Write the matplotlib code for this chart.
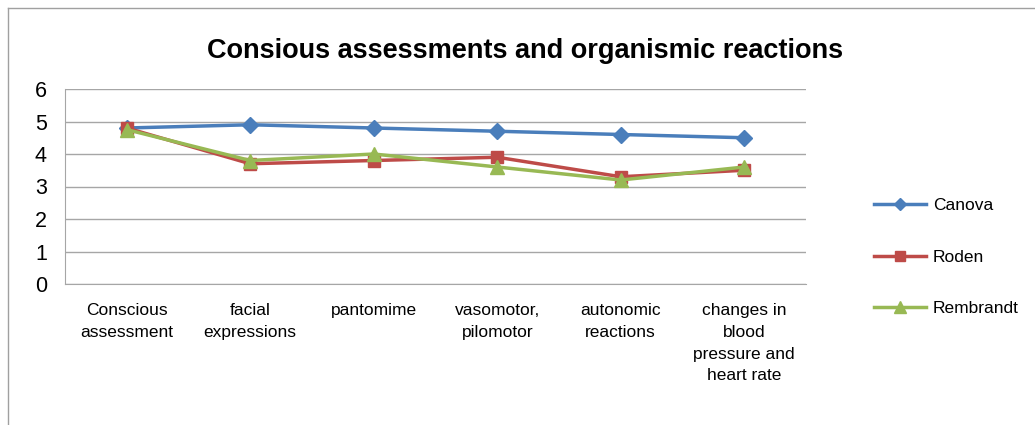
import matplotlib.pyplot as plt
from matplotlib.lines import Line2D

categories = ["Conscious\nassessment", "facial\nexpressions", "pantomime",
              "vasomotor,\npilomotor", "autonomic\nreactions",
              "changes in\nblood\npressure and\nheart rate"]
canova = [4.8, 4.9, 4.8, 4.7, 4.6, 4.5]
roden = [4.8, 3.7, 3.8, 3.9, 3.3, 3.5]
rembrandt = [4.75, 3.8, 4.0, 3.6, 3.2, 3.6]
yticks = [0, 1, 2, 3, 4, 5, 6]

plt.rcParams['font.family'] = ['Liberation Sans Narrow', 'Liberation Sans', 'DejaVu Sans']

fig = plt.figure(figsize=(10.35, 4.25), dpi=100)
ax = fig.add_axes([65 / 1035, 141 / 425, 741 / 1035, 195 / 425])

x = list(range(len(categories)))
ax.plot(x, canova, color="#4A7EBB", lw=2.5, marker="D", ms=8, label="Canova")
ax.plot(x, roden, color="#BE4B48", lw=2.5, marker="s", ms=9, label="Roden")
ax.plot(x, rembrandt, color="#98B954", lw=2.5, marker="^", ms=10, label="Rembrandt")

ax.set_xlim(-0.5, len(categories) - 0.5)
ax.set_ylim(0, 6)
ax.set_yticks(yticks)
ax.set_xticks(x)
ax.set_xticklabels(categories, fontsize=12.5, linespacing=1.55, va="top")
ax.tick_params(axis="y", labelsize=15.5, length=0, pad=13)
ax.tick_params(axis="x", length=0, pad=14)
ax.grid(axis="y", color="#A6A6A6", lw=1)
ax.set_axisbelow(True)
for s in ["top", "right"]:
    ax.spines[s].set_visible(False)
for s in ["left", "bottom"]:
    ax.spines[s].set_color("#A6A6A6")

fig.text(0.507, 0.88, "Consious assessments and organismic reactions",
         ha="center", va="center", fontsize=19.5, fontweight="bold",
         family=["Liberation Sans", "DejaVu Sans"])

leg = fig.legend(loc="center left", bbox_to_anchor=(0.829, 0.395), frameon=False,
                 fontsize=12.5, handlelength=3.0, handletextpad=0.4, labelspacing=2.1,
                 markerscale=0.8)

# outer chart border (top and left visible)
fig.add_artist(Line2D([7.5 / 1035, 7.5 / 1035], [0, 417 / 425], color="#A0A0A0", lw=1))
fig.add_artist(Line2D([7.5 / 1035, 1], [417 / 425, 417 / 425], color="#A0A0A0", lw=1))

fig.savefig("out.png", dpi=100)
